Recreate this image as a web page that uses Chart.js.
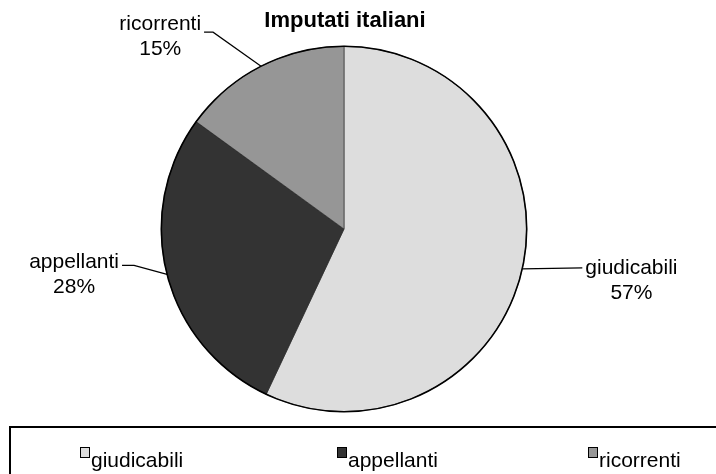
<!DOCTYPE html>
<html>
<head>
<meta charset="utf-8">
<script src="https://cdn.jsdelivr.net/npm/chart.js@4/dist/chart.umd.min.js"></script>
<style>
html,body{margin:0;padding:0;background:#fff;}
canvas{display:block;}
</style>
</head>
<body>
<canvas id="c" width="716" height="474"></canvas>
<script>
const title = 'Imputati italiani';
const categories = ['giudicabili', 'appellanti', 'ricorrenti'];
const values = [57, 28, 15];
const percentLabels = ['57%', '28%', '15%'];
const colors = ['#DDDDDD', '#333333', '#969696'];

const FONT = '"Liberation Sans", Arial, sans-serif';
const FS = 21;

// leader-line geometry per slice (style only)
const leader = [
  {dx: 60, dy: -1, h: 0, side: 'right', ty: 0},
  {dx: -33, dy: -9, h: 12, side: 'left', ty: -3},
  {dx: -48, dy: -34, h: 9, side: 'left', ty: -8}
];

const labelPlugin = {
  id: 'extras',
  afterDatasetsDraw(chart) {
    const ctx = chart.ctx;
    const a = chart.getDatasetMeta(0).data[0];
    ctx.save();
    ctx.strokeStyle = '#000';
    ctx.lineWidth = 1.6;
    ctx.beginPath();
    ctx.arc(a.x, a.y, a.outerRadius, 0, Math.PI * 2);
    ctx.stroke();
    ctx.restore();
  },
  afterDraw(chart) {
    const ctx = chart.ctx;
    const meta = chart.getDatasetMeta(0);
    ctx.save();
    // title
    ctx.fillStyle = '#000';
    ctx.font = 'bold 22px ' + FONT;
    ctx.textAlign = 'center';
    ctx.textBaseline = 'middle';
    const a0 = meta.data[0];
    ctx.fillText(title, a0.x + 1, 21);

    // slice labels
    ctx.font = FS + 'px ' + FONT;
    meta.data.forEach((arc, i) => {
      const mid = (arc.startAngle + arc.endAngle) / 2;
      const ax = arc.x + Math.cos(mid) * arc.outerRadius;
      const ay = arc.y + Math.sin(mid) * arc.outerRadius;
      const L = leader[i];
      const ex = ax + L.dx, ey = ay + L.dy;
      const sgn = L.side === 'right' ? 1 : -1;
      const fx = ex + sgn * L.h;
      ctx.strokeStyle = '#000';
      ctx.lineWidth = 1.2;
      ctx.beginPath();
      ctx.moveTo(ax, ay);
      ctx.lineTo(ex, ey);
      ctx.lineTo(fx, ey);
      ctx.stroke();
      const w = ctx.measureText(categories[i]).width;
      const tx = L.side === 'right' ? fx + 3 : fx - 3;
      const cx = L.side === 'right' ? tx + w / 2 : tx - w / 2;
      ctx.textAlign = 'center';
      ctx.fillStyle = '#000';
      ctx.fillText(categories[i], cx, ey + L.ty);
      ctx.fillText(percentLabels[i], cx, ey + L.ty + 25);
    });

    // legend box
    ctx.lineWidth = 2;
    ctx.strokeStyle = '#000';
    ctx.strokeRect(10, 427, 720, 60);
    const legX = [80, 337, 588];
    ctx.textAlign = 'left';
    ctx.font = FS + 'px ' + FONT;
    categories.forEach((c, i) => {
      ctx.fillStyle = colors[i];
      ctx.fillRect(legX[i], 447, 9, 10);
      ctx.lineWidth = 1;
      ctx.strokeStyle = '#000';
      ctx.strokeRect(legX[i] + 0.5, 447.5, 9, 10);
      ctx.fillStyle = '#000';
      ctx.fillText(c, legX[i] + 11, 461);
    });
    ctx.restore();
  }
};

new Chart(document.getElementById('c'), {
  type: 'pie',
  data: {
    labels: categories,
    datasets: [{
      data: values,
      backgroundColor: colors,
      borderColor: '#222',
      borderWidth: 0.6
    }]
  },
  options: {
    responsive: false,
    animation: false,
    devicePixelRatio: 1,
    layout: {padding: {left: 161, right: 189, top: 46, bottom: 62}},
    plugins: {
      legend: {display: false},
      title: {display: false},
      tooltip: {enabled: false}
    }
  },
  plugins: [labelPlugin]
});
</script>
</body>
</html>
